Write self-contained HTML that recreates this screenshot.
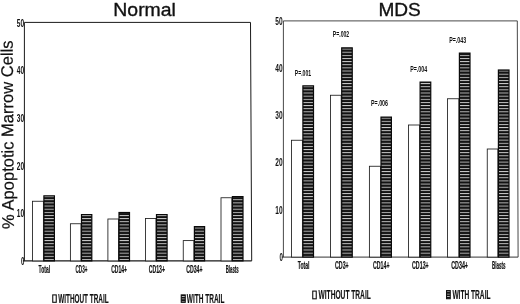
<!DOCTYPE html>
<html lang="en">
<head>
<meta charset="utf-8">
<title>Apoptotic Marrow Cells: Normal vs MDS</title>
<style>
html,body{margin:0;padding:0;background:#fff;}
body{width:520px;height:304px;overflow:hidden;}
svg{display:block;will-change:transform;font-family:'Liberation Sans', sans-serif;fill:#111;}
</style>
</head>
<body>
<svg width="520" height="304" viewBox="0 0 520 304">
<defs>
<pattern id="st" x="0" y="1.5" width="20" height="3.14" patternUnits="userSpaceOnUse">
<rect x="0" y="0" width="20" height="3.14" fill="#121212"/>
<rect x="0" y="0" width="20" height="0.9" fill="#cecece"/>
</pattern>
<pattern id="st2" x="0" y="0.9" width="20" height="2.4" patternUnits="userSpaceOnUse">
<rect x="0" y="0" width="20" height="2.4" fill="#141414"/>
<rect x="0" y="0" width="20" height="0.8" fill="#bbb"/>
</pattern>
</defs>
<rect x="0" y="0" width="520" height="304" fill="#fff"/>
<path d="M24.4 260.9 V22.4 H250.5 L251.7 260.9" fill="none" stroke="#1a1a1a" stroke-width="1.0"/>
<path d="M22.9 260.9 H251.7" fill="none" stroke="#1a1a1a" stroke-width="1.1"/>
<rect x="32.5" y="201.25" width="10.9" height="59.65" fill="#fff" stroke="#1c1c1c" stroke-width="0.85"/>
<rect x="43.9" y="195.85" width="10.5" height="65.05" fill="url(#st)" stroke="#0a0a0a" stroke-width="1.2"/>
<rect x="70.4" y="223.75" width="10.6" height="37.15" fill="#fff" stroke="#1c1c1c" stroke-width="0.85"/>
<rect x="81.5" y="214.6" width="10.3" height="46.3" fill="url(#st)" stroke="#0a0a0a" stroke-width="1.2"/>
<rect x="107.9" y="219" width="10.6" height="41.9" fill="#fff" stroke="#1c1c1c" stroke-width="0.85"/>
<rect x="119.0" y="212.5" width="10.5" height="48.4" fill="url(#st)" stroke="#0a0a0a" stroke-width="1.2"/>
<rect x="145.5" y="218.5" width="10.5" height="42.4" fill="#fff" stroke="#1c1c1c" stroke-width="0.85"/>
<rect x="156.5" y="214.6" width="10.6" height="46.3" fill="url(#st)" stroke="#0a0a0a" stroke-width="1.2"/>
<rect x="183.25" y="240.6" width="10.65" height="20.3" fill="#fff" stroke="#1c1c1c" stroke-width="0.85"/>
<rect x="194.4" y="226.6" width="10.2" height="34.3" fill="url(#st)" stroke="#0a0a0a" stroke-width="1.2"/>
<rect x="221" y="197.75" width="10.9" height="63.15" fill="#fff" stroke="#1c1c1c" stroke-width="0.85"/>
<rect x="232.4" y="196.6" width="10.6" height="64.3" fill="url(#st)" stroke="#0a0a0a" stroke-width="1.2"/>
<path d="M283.4 257.1 V20.9 H517.3 L518.1 257.1" fill="none" stroke="#333" stroke-width="0.9"/>
<path d="M281.9 257.1 H518.1" fill="none" stroke="#333" stroke-width="1.0"/>
<rect x="291.5" y="140.25" width="10.9" height="116.85" fill="#fff" stroke="#1c1c1c" stroke-width="0.85"/>
<rect x="302.9" y="85.85" width="10.6" height="171.25" fill="url(#st)" stroke="#0a0a0a" stroke-width="1.2"/>
<rect x="330.5" y="95.25" width="10.7" height="161.85" fill="#fff" stroke="#1c1c1c" stroke-width="0.85"/>
<rect x="341.7" y="47.85" width="10.55" height="209.25" fill="url(#st)" stroke="#0a0a0a" stroke-width="1.2"/>
<rect x="369.4" y="166.25" width="11.1" height="90.85" fill="#fff" stroke="#1c1c1c" stroke-width="0.85"/>
<rect x="381.0" y="117.1" width="10.4" height="140.0" fill="url(#st)" stroke="#0a0a0a" stroke-width="1.2"/>
<rect x="408.5" y="125" width="11.1" height="132.1" fill="#fff" stroke="#1c1c1c" stroke-width="0.85"/>
<rect x="420.1" y="82.1" width="10.65" height="175.0" fill="url(#st)" stroke="#0a0a0a" stroke-width="1.2"/>
<rect x="447.5" y="98.75" width="11.4" height="158.35" fill="#fff" stroke="#1c1c1c" stroke-width="0.85"/>
<rect x="459.4" y="53.1" width="10.6" height="204.0" fill="url(#st)" stroke="#0a0a0a" stroke-width="1.2"/>
<rect x="487.25" y="149" width="10.65" height="108.1" fill="#fff" stroke="#1c1c1c" stroke-width="0.85"/>
<rect x="498.4" y="70.0" width="10.6" height="187.1" fill="url(#st)" stroke="#0a0a0a" stroke-width="1.2"/>
<text x="144.6" y="15.5" font-size="19" text-anchor="middle" font-weight="normal" textLength="62.6" lengthAdjust="spacingAndGlyphs" stroke="#111" stroke-width="0.35">Normal</text>
<text x="399.6" y="15.5" font-size="19" text-anchor="middle" font-weight="normal" textLength="42.4" lengthAdjust="spacingAndGlyphs" stroke="#111" stroke-width="0.35">MDS</text>
<text transform="translate(14.0,228.9) rotate(-90.4)" font-size="16.9" textLength="188.5" stroke="#111" stroke-width="0.2" lengthAdjust="spacingAndGlyphs">% Apoptotic Marrow Cells</text>
<text x="24.1" y="26.5" font-size="11.5" text-anchor="end" font-weight="bold" textLength="7.3" lengthAdjust="spacingAndGlyphs">50</text>
<text x="24.1" y="74.2" font-size="11.5" text-anchor="end" font-weight="bold" textLength="7.3" lengthAdjust="spacingAndGlyphs">40</text>
<text x="24.1" y="121.9" font-size="11.5" text-anchor="end" font-weight="bold" textLength="7.3" lengthAdjust="spacingAndGlyphs">30</text>
<text x="24.1" y="169.6" font-size="11.5" text-anchor="end" font-weight="bold" textLength="7.3" lengthAdjust="spacingAndGlyphs">20</text>
<text x="24.1" y="217.3" font-size="11.5" text-anchor="end" font-weight="bold" textLength="7.3" lengthAdjust="spacingAndGlyphs">10</text>
<text x="24.3" y="265.0" font-size="11.5" text-anchor="end" font-weight="bold" textLength="3.4" lengthAdjust="spacingAndGlyphs">0</text>
<text x="282.6" y="24.7" font-size="11.5" text-anchor="end" font-weight="bold" textLength="7.3" lengthAdjust="spacingAndGlyphs">50</text>
<text x="282.6" y="71.9" font-size="11.5" text-anchor="end" font-weight="bold" textLength="7.3" lengthAdjust="spacingAndGlyphs">40</text>
<text x="282.6" y="119.2" font-size="11.5" text-anchor="end" font-weight="bold" textLength="7.3" lengthAdjust="spacingAndGlyphs">30</text>
<text x="282.6" y="166.4" font-size="11.5" text-anchor="end" font-weight="bold" textLength="7.3" lengthAdjust="spacingAndGlyphs">20</text>
<text x="282.6" y="213.7" font-size="11.5" text-anchor="end" font-weight="bold" textLength="7.3" lengthAdjust="spacingAndGlyphs">10</text>
<text x="282.8" y="260.9" font-size="11.5" text-anchor="end" font-weight="bold" textLength="3.4" lengthAdjust="spacingAndGlyphs">0</text>
<text x="38.6" y="272.7" font-size="10.2" text-anchor="start" font-weight="bold" textLength="11.5" lengthAdjust="spacingAndGlyphs" stroke="#111" stroke-width="0.2">Total</text>
<text x="75.5" y="272.7" font-size="10.2" text-anchor="start" font-weight="bold" textLength="12.0" lengthAdjust="spacingAndGlyphs" stroke="#111" stroke-width="0.2">CD3+</text>
<text x="111.2" y="272.7" font-size="10.2" text-anchor="start" font-weight="bold" textLength="15.8" lengthAdjust="spacingAndGlyphs" stroke="#111" stroke-width="0.2">CD14+</text>
<text x="148.7" y="272.7" font-size="10.2" text-anchor="start" font-weight="bold" textLength="16.3" lengthAdjust="spacingAndGlyphs" stroke="#111" stroke-width="0.2">CD13+</text>
<text x="186.2" y="272.7" font-size="10.2" text-anchor="start" font-weight="bold" textLength="16.3" lengthAdjust="spacingAndGlyphs" stroke="#111" stroke-width="0.2">CD34+</text>
<text x="225.7" y="272.7" font-size="10.2" text-anchor="start" font-weight="bold" textLength="13.0" lengthAdjust="spacingAndGlyphs" stroke="#111" stroke-width="0.2">Blasts</text>
<text x="297.7" y="268.7" font-size="10.5" text-anchor="start" font-weight="bold" textLength="11.8" lengthAdjust="spacingAndGlyphs" stroke="#111" stroke-width="0.2">Total</text>
<text x="335" y="268.7" font-size="10.5" text-anchor="start" font-weight="bold" textLength="13.7" lengthAdjust="spacingAndGlyphs" stroke="#111" stroke-width="0.2">CD3+</text>
<text x="373" y="268.7" font-size="10.5" text-anchor="start" font-weight="bold" textLength="16.5" lengthAdjust="spacingAndGlyphs" stroke="#111" stroke-width="0.2">CD14+</text>
<text x="412" y="268.7" font-size="10.5" text-anchor="start" font-weight="bold" textLength="16.7" lengthAdjust="spacingAndGlyphs" stroke="#111" stroke-width="0.2">CD13+</text>
<text x="451.2" y="268.7" font-size="10.5" text-anchor="start" font-weight="bold" textLength="16.8" lengthAdjust="spacingAndGlyphs" stroke="#111" stroke-width="0.2">CD34+</text>
<text x="492" y="268.7" font-size="10.5" text-anchor="start" font-weight="bold" textLength="13.5" lengthAdjust="spacingAndGlyphs" stroke="#111" stroke-width="0.2">Blasts</text>
<text x="294.8" y="76.2" font-size="9.9" text-anchor="start" font-weight="bold" textLength="16.3" lengthAdjust="spacingAndGlyphs">P=.001</text>
<text x="332.8" y="36.7" font-size="9.9" text-anchor="start" font-weight="bold" textLength="16.4" lengthAdjust="spacingAndGlyphs">P=.002</text>
<text x="371" y="106.1" font-size="9.9" text-anchor="start" font-weight="bold" textLength="17" lengthAdjust="spacingAndGlyphs">P=.006</text>
<text x="410.2" y="72.1" font-size="9.9" text-anchor="start" font-weight="bold" textLength="16.9" lengthAdjust="spacingAndGlyphs">P=.004</text>
<text x="449.2" y="43.3" font-size="9.9" text-anchor="start" font-weight="bold" textLength="16.9" lengthAdjust="spacingAndGlyphs">P=.043</text>
<rect x="52.75" y="294.9" width="3.5" height="7.4" fill="#fff" stroke="#111" stroke-width="1.1"/>
<text x="58.2" y="302.6" font-size="11.9" text-anchor="start" font-weight="bold" textLength="50.4" lengthAdjust="spacingAndGlyphs" stroke="#111" stroke-width="0.15">WITHOUT TRAIL</text>
<rect x="181.25" y="294.9" width="4" height="7.4" fill="url(#st2)" stroke="#111" stroke-width="1.1"/>
<text x="186.8" y="302.6" font-size="11.9" text-anchor="start" font-weight="bold" textLength="37.6" lengthAdjust="spacingAndGlyphs" stroke="#111" stroke-width="0.15">WITH TRAIL</text>
<rect x="312.75" y="291.1" width="3.5" height="7.7" fill="#fff" stroke="#111" stroke-width="1.1"/>
<text x="318.5" y="298.9" font-size="12.3" text-anchor="start" font-weight="bold" textLength="52.3" lengthAdjust="spacingAndGlyphs" stroke="#111" stroke-width="0.15">WITHOUT TRAIL</text>
<rect x="446.55" y="290.6" width="3.7" height="8.1" fill="url(#st2)" stroke="#111" stroke-width="1.1"/>
<text x="452.4" y="298.9" font-size="12.3" text-anchor="start" font-weight="bold" textLength="38.1" lengthAdjust="spacingAndGlyphs" stroke="#111" stroke-width="0.15">WITH TRAIL</text>
</svg>
</body>
</html>
